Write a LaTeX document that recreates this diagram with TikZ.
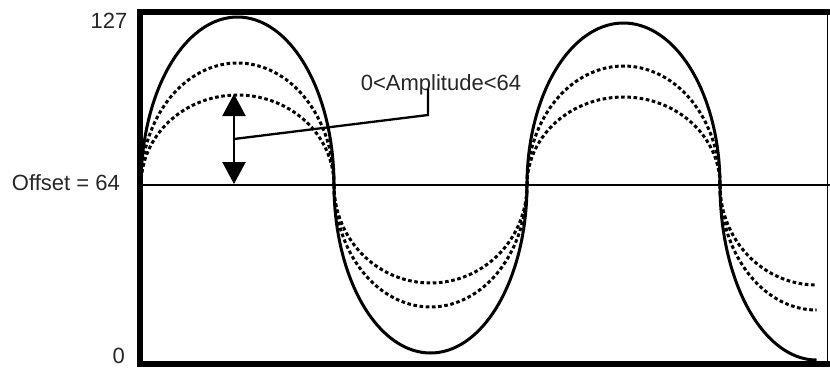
\documentclass[tikz,border=0pt]{standalone}
\usepackage{fontspec}
\setmainfont{Liberation Sans}
\usetikzlibrary{arrows.meta}
\tikzset{
  frame/.style={line width=6pt, line cap=rect},
  thinframe/.style={line width=1.5pt},
  axislbl/.style={font=\fontsize{22}{26}\selectfont, text=black!85, inner sep=0pt},
  wave/.style={line width=3pt},
  dwave/.style={line width=3pt, dash pattern=on 3.6pt off 2.6pt},
  thinline/.style={line width=2.3pt},
  dbl/.style={line width=2.3pt, {Triangle[length=22pt,width=23pt]}-{Triangle[length=22pt,width=23pt]}}
}
\def\R{96.5}
\begin{document}
\begin{tikzpicture}[x=1pt,y=-1pt]
\useasboundingbox (0,0) rectangle (830,370);
% frame
\coordinate (tl) at (140,11.5);
\coordinate (bl) at (140,363.5);
\coordinate (tr) at (830,11.5);
\coordinate (br) at (830,363.5);
\coordinate (rt) at (827.5,11.5);
\coordinate (rb) at (827.5,363.5);
\draw[thinframe] (rt) -- (rb);
\draw[frame] (tr) -- (tl) -- (bl) -- (br);
% offset line
\coordinate (ol) at (140,185);
\coordinate (or) at (830,185);
\draw[thinline] (ol) -- (or);
% labels
\node[axislbl, anchor=base east] (l127) at (127.5,28.5) {127};
\node[axislbl, anchor=base east] (loff) at (120,190) {Offset = 64};
\node[axislbl, anchor=base east] (l0) at (125,363) {0};
% solid wave: elliptic half waves
\foreach \c/\s/\A/\te in {237.5/-1/168/180, 430.5/1/168/180, 623.5/-1/162/180, 816.5/1/175/90}
  \draw[wave] plot[domain=0:\te, samples=73, smooth, variable=\t]
    ({\c - \R*cos(\t)}, {185 + \s*\A*sin(\t)});
% dashed waves: elliptic half waves of smaller amplitude
\foreach \c/\s/\A/\te in {237.5/-1/122/180, 430.5/1/122/180, 623.5/-1/119/180, 816.5/1/125/90,
                          237.5/-1/90/180, 430.5/1/98/180, 623.5/-1/88/180, 816.5/1/100/90}
  \draw[dwave] plot[domain=0:\te, samples=73, smooth, variable=\t]
    ({\c - \R*cos(\t)}, {185 + \s*\A*sin(\t)});
% amplitude arrow
\coordinate (atop) at (234,94);
\coordinate (abot) at (234,184);
\draw[dbl] (atop) -- (abot);
% label with leader
\node[axislbl, anchor=base] (amp) at (441,90) {0<Amplitude<64};
\coordinate (lead) at (234,139);
\coordinate (corner) at (428,115);
\coordinate (ltop) at (428,89);
\draw[thinline] (lead) -- (corner) -- (ltop);
\end{tikzpicture}
\end{document}
